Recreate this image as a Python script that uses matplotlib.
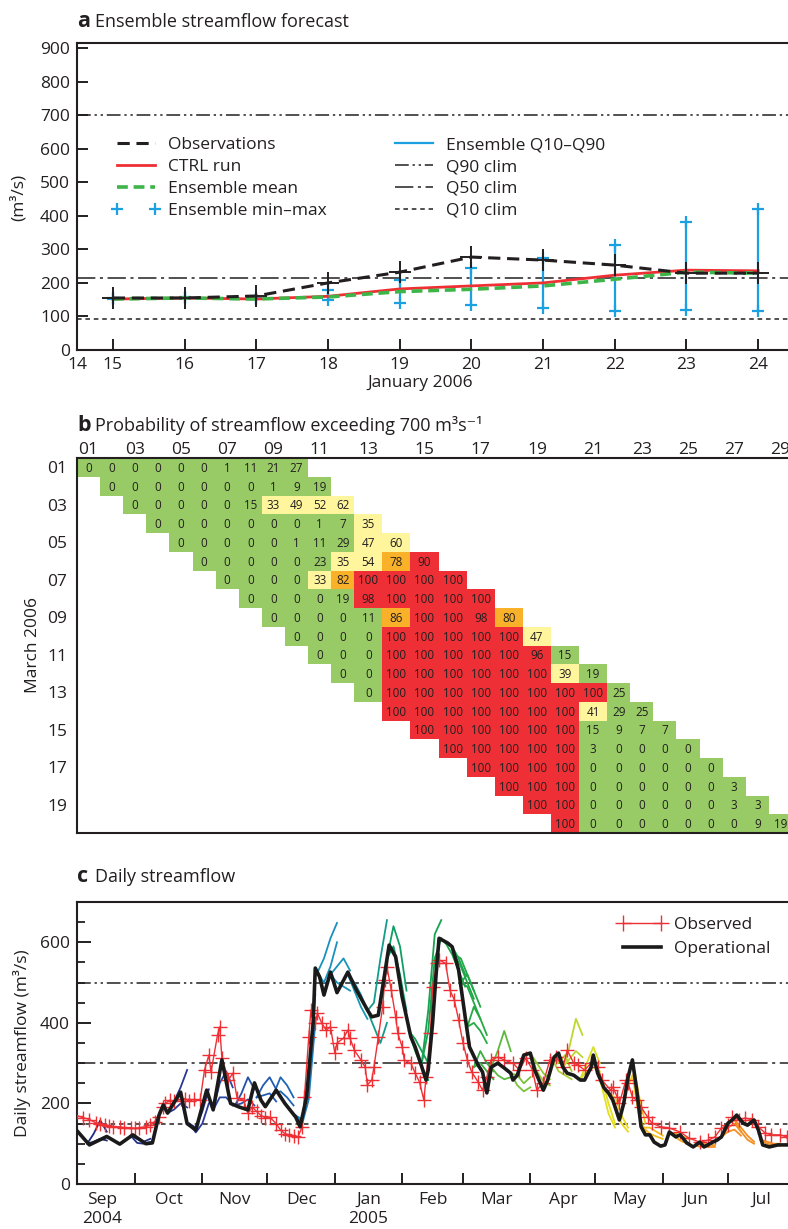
import numpy as np
import matplotlib
matplotlib.use('Agg')
import matplotlib.pyplot as plt
from matplotlib.lines import Line2D
from matplotlib.colors import ListedColormap, BoundaryNorm, LinearSegmentedColormap
import datetime as dt

plt.rcParams['font.family'] = ['Open Sans', 'DejaVu Sans']

# ---------------- Panel a data ----------------
a_days = [15, 16, 17, 18, 19, 20, 21, 22, 23, 24]
a_obs = [155, 155, 161, 200, 232, 277, 268, 253, 229, 229]
a_ctrl = [152, 155, 152, 160, 182, 191, 200, 223, 238, 236]
a_mean = [152, 155, 152, 158, 174, 181, 191, 211, 232, 229]
a_min = [152, 155, 152, 149, 141, 134, 125, 117, 119, 117]
a_max = [155, 157, 154, 179, 209, 244, 274, 313, 382, 419]
a_q10 = [152, 155, 152, 152, 146, 138, 130, 121, 121, 119]
a_q90 = [155, 157, 154, 175, 205, 240, 270, 310, 378, 416]
a_clim = {'Q90': 700, 'Q50': 215, 'Q10': 92}
a_xticklabels = ['14', '15', '16', '17', '18', '19', '20', '21', '22', '23', '24']

# ---------------- Panel b data ----------------
prob_rows = [
    [0, 0, 0, 0, 0, 0, 1, 11, 21, 27],
    [0, 0, 0, 0, 0, 0, 0, 1, 9, 19],
    [0, 0, 0, 0, 0, 15, 33, 49, 52, 62],
    [0, 0, 0, 0, 0, 0, 0, 1, 7, 35],
    [0, 0, 0, 0, 0, 1, 11, 29, 47, 60],
    [0, 0, 0, 0, 0, 23, 35, 54, 78, 90],
    [0, 0, 0, 0, 33, 82, 100, 100, 100, 100],
    [0, 0, 0, 0, 19, 98, 100, 100, 100, 100],
    [0, 0, 0, 0, 11, 86, 100, 100, 98, 80],
    [0, 0, 0, 0, 100, 100, 100, 100, 100, 47],
    [0, 0, 0, 100, 100, 100, 100, 100, 96, 15],
    [0, 0, 100, 100, 100, 100, 100, 100, 39, 19],
    [0, 100, 100, 100, 100, 100, 100, 100, 100, 25],
    [100, 100, 100, 100, 100, 100, 100, 41, 29, 25],
    [100, 100, 100, 100, 100, 100, 15, 9, 7, 7],
    [100, 100, 100, 100, 100, 3, 0, 0, 0, 0],
    [100, 100, 100, 100, 0, 0, 0, 0, 0, 0],
    [100, 100, 100, 0, 0, 0, 0, 0, 0, 3],
    [100, 100, 0, 0, 0, 0, 0, 0, 3, 3],
    [100, 0, 0, 0, 0, 0, 0, 0, 9, 19],
]
prob_bounds = [0, 30, 75, 90, 101]

# ---------------- Panel c data (days since 1 Sep 2004) ----------------
obs_days = [3, 6, 9, 12, 14, 16, 18, 20, 23, 25,
            28, 30, 32, 35, 37, 39, 41, 43, 44, 46,
            48, 51, 53, 55, 57, 60, 62, 64, 65, 68,
            69, 70, 73, 75, 77, 80, 82, 84, 86, 88,
            90, 92, 95, 97, 99, 101, 103, 105, 107, 108,
            110, 111, 113, 114, 116, 118, 120, 122, 123, 126,
            128, 129, 131, 134, 136, 137, 139, 140, 142, 144,
            145, 146, 148, 150, 151, 153, 154, 157, 159, 161,
            163, 164, 166, 167, 169, 170, 173, 175, 177, 179,
            181, 183, 185, 188, 190, 192, 194, 197, 200, 204,
            207, 210, 213, 215, 218, 221, 224, 227, 229, 232,
            234, 237, 240, 243, 245, 249, 250, 252, 253, 256,
            257, 259, 261, 263, 266, 268, 272, 276, 281, 285,
            290, 294, 297, 300, 303, 305, 308, 311, 314, 317,
            320, 323, 327, 330, 333]
obs_vals = [170, 165, 160, 152, 150, 146, 145, 142, 142, 140,
            140, 138, 140, 142, 146, 155, 166, 190, 200, 208,
            205, 210, 212, 205, 210, 208, 283, 320, 278, 370,
            390, 313, 258, 275, 213, 208, 176, 191, 180, 170,
            165, 166, 150, 134, 125, 122, 118, 117, 142, 216,
            365, 432, 399, 424, 399, 382, 390, 325, 350, 362,
            382, 362, 332, 308, 290, 246, 258, 290, 365, 439,
            506, 538, 481, 415, 374, 340, 308, 300, 275, 253,
            208, 265, 374, 489, 548, 556, 548, 481, 457, 407,
            350, 308, 278, 253, 233, 265, 308, 315, 308, 300,
            283, 313, 283, 233, 251, 308, 315, 290, 332, 300,
            295, 283, 300, 290, 258, 233, 241, 216, 200, 258,
            251, 216, 208, 191, 166, 151, 142, 139, 129, 114,
            104, 109, 117, 139, 146, 166, 159, 164, 159, 142,
            127, 122, 122, 117, 115]

op_days = [3, 9, 17, 23, 29, 35, 38, 41, 43, 45,
           51, 54, 58, 63, 66, 70, 74, 78, 82, 85,
           88, 90, 95, 99, 104, 106, 109, 112, 113, 115,
           117, 120, 123, 128, 132, 137, 139, 142, 145, 147,
           150, 153, 157, 159, 161, 164, 165, 167, 169, 170,
           174, 176, 179, 182, 184, 188, 190, 192, 194, 197,
           200, 203, 204, 206, 209, 212, 214, 218, 220, 223,
           225, 227, 229, 232, 235, 237, 240, 241, 243, 246,
           248, 250, 253, 255, 257, 259, 261, 263, 265, 267,
           269, 272, 274, 276, 279, 281, 284, 287, 290, 292,
           296, 298, 300, 303, 305, 307, 310, 312, 315, 317,
           319, 322, 326, 329, 333]
op_vals = [134, 97, 118, 99, 122, 100, 102, 170, 196, 176,
           228, 150, 134, 233, 184, 308, 200, 191, 184, 251,
           208, 192, 233, 200, 166, 142, 216, 399, 536, 514,
           469, 526, 475, 526, 481, 432, 415, 419, 523, 593,
           564, 464, 365, 340, 308, 258, 283, 399, 548, 610,
           598, 589, 531, 415, 340, 295, 278, 226, 290, 300,
           288, 275, 258, 270, 320, 325, 283, 233, 258, 315,
           325, 290, 275, 270, 258, 258, 290, 320, 275, 238,
           226, 208, 159, 200, 265, 308, 233, 142, 122, 122,
           104, 94, 97, 129, 117, 122, 102, 92, 104, 92,
           104, 109, 117, 151, 159, 171, 151, 146, 159, 134,
           97, 92, 97, 97, 97]

# ensemble forecasts: issue day, and upper / lower members at lead days
fc_lead = [0, 3, 6, 9]
fc_issue = [8, 28, 45, 55, 66, 76, 86, 94, 104, 114, 120, 128,
            137, 146, 156, 162, 173, 177, 180, 183, 186, 194, 203, 212,
            222, 227, 235, 242, 248, 256, 264, 276, 288, 300, 306, 318]
fc_upper = [[100, 125, 158, 130], [120, 112, 105, 112], [176, 205, 240, 283],
            [150, 140, 180, 235], [184, 250, 280, 240], [195, 225, 265, 235],
            [215, 245, 265, 235], [225, 265, 245, 215], [170, 160, 260, 470],
            [525, 560, 610, 648], [520, 540, 560, 530], [520, 500, 470, 430],
            [430, 450, 560, 655], [560, 640, 590, 480], [380, 360, 330, 300],
            [300, 430, 620, 655], [598, 590, 560, 520], [570, 560, 520, 480],
            [500, 520, 480, 440], [390, 440, 410, 370], [290, 330, 300, 280],
            [290, 330, 380, 330], [275, 270, 250, 265], [325, 300, 275, 260],
            [310, 300, 320, 280], [290, 340, 410, 370], [260, 300, 340, 300],
            [300, 260, 200, 150], [226, 215, 170, 140], [230, 310, 220, 150],
            [140, 140, 130, 120], [129, 125, 118, 112], [95, 100, 98, 96],
            [117, 140, 150, 130], [160, 140, 120, 105], [110, 105, 100, 100]]
fc_lower = [[100, 105, 112, 108], [120, 102, 100, 104], [176, 185, 200, 190],
            [150, 128, 150, 200], [184, 215, 215, 195], [195, 200, 210, 195],
            [215, 220, 225, 205], [225, 230, 215, 195], [170, 150, 210, 400],
            [525, 500, 540, 600], [520, 500, 490, 480], [520, 480, 440, 410],
            [430, 390, 350, 400], [560, 590, 520, 430], [380, 330, 290, 258],
            [300, 380, 560, 610], [598, 570, 530, 490], [570, 540, 500, 460],
            [500, 490, 450, 410], [390, 400, 380, 350], [290, 300, 280, 260],
            [290, 270, 260, 265], [275, 245, 230, 240], [325, 280, 255, 245],
            [310, 280, 270, 260], [290, 310, 330, 315], [260, 280, 290, 280],
            [300, 240, 175, 140], [226, 190, 150, 130], [230, 270, 170, 130],
            [140, 125, 118, 112], [129, 115, 105, 100], [95, 92, 92, 92],
            [117, 130, 135, 120], [160, 130, 110, 100], [110, 100, 96, 95]]
c_clim = {'Q90': 500, 'Q50': 300, 'Q10': 150}
c_months = ['Sep\n2004', 'Oct', 'Nov', 'Dec', 'Jan\n2005', 'Feb', 'Mar',
            'Apr', 'May', 'Jun', 'Jul']

# ---------------- styling ----------------
INK = '#231f20'
RED = '#ee3035'
GREEN = '#3db549'
BLUE = '#1ba1e2'
W, H = 788, 1229
FS = 12.5


def axrect(l, t, r, b):
    return [l / W, 1 - b / H, (r - l) / W, (b - t) / H]


def title(x, y, letter, text):
    fig.text(x / W, 1 - y / H, letter, fontsize=15.5, fontweight='bold',
             color=INK, va='baseline', ha='left')
    fig.text((x + 18) / W, 1 - y / H, text, fontsize=13, color=INK,
             va='baseline', ha='left')


def style_axis(ax):
    for s in ax.spines.values():
        s.set_linewidth(1.5)
        s.set_color(INK)
    ax.spines['right'].set_visible(False)


Q90_DASH = (9, 2.5, 1.5, 2.5, 1.5, 2.5)
Q50_DASH = (12, 3, 2, 3)
Q10_DASH = (3, 2.5)

fig = plt.figure(figsize=(W / 100, H / 100), dpi=100)

# ================= Panel a =================
axa = fig.add_axes(axrect(77, 43, 794, 350))
style_axis(axa)
axa.axhline(a_clim['Q90'], color=INK, lw=1.1, dashes=Q90_DASH)
axa.axhline(a_clim['Q50'], color=INK, lw=1.1, dashes=Q50_DASH)
axa.axhline(a_clim['Q10'], color=INK, lw=1.1, dashes=Q10_DASH)
axa.vlines(a_days, a_q10, a_q90, color=BLUE, lw=1.6, zorder=3)
axa.plot(a_days, a_min, ls='none', marker='+', ms=9, mew=1.6, color=BLUE, zorder=3)
axa.plot(a_days, a_max, ls='none', marker='+', ms=9, mew=1.6, color=BLUE, zorder=3)
axa.plot(a_days, a_ctrl, color=RED, lw=2, zorder=4)
axa.plot(a_days, a_mean, color=GREEN, lw=2.6, dashes=(3, 1.6), zorder=5)
axa.plot(a_days, a_obs, color=INK, lw=2.2, dashes=(4, 2.2), marker='+', ms=16,
         mew=1.4, zorder=6)
axa.set_xlim(14.5, 24.5)
axa.set_ylim(0, 915)
axa.set_xticks([14.5] + a_days)
axa.set_xticklabels(a_xticklabels)
axa.set_yticks(np.arange(0, 901, 100))
axa.tick_params(direction='in', length=8, width=1.4, labelsize=FS, colors=INK,
                pad=5, top=False, right=False)
fig.text(18 / W, 1 - 197 / H, '(m³/s)', rotation=90, ha='center', va='center',
         fontsize=FS, color=INK)
fig.text(420 / W, 1 - 383 / H, 'January 2006', ha='center', va='center',
         fontsize=FS, color=INK)
h = [Line2D([], [], color=INK, lw=2.2, dashes=(4, 2.2)),
     Line2D([], [], color=RED, lw=2),
     Line2D([], [], color=GREEN, lw=2.6, dashes=(3, 1.6)),
     Line2D([], [], color=BLUE, ls='none', marker='+', ms=9, mew=1.6),
     Line2D([], [], color=BLUE, lw=1.6),
     Line2D([], [], color=INK, lw=1.1, dashes=Q90_DASH),
     Line2D([], [], color=INK, lw=1.1, dashes=Q50_DASH),
     Line2D([], [], color=INK, lw=1.1, dashes=Q10_DASH)]
labs = ['Observations', 'CTRL run', 'Ensemble mean', 'Ensemble min–max',
        'Ensemble Q10–Q90', 'Q90 clim', 'Q50 clim', 'Q10 clim']
axa.legend(h, labs, ncol=2, numpoints=2, frameon=False, fontsize=FS,
           loc='upper left', bbox_to_anchor=((112 - 77) / 717, (350 - 137) / 307),
           borderpad=0, borderaxespad=0, handlelength=2.8, handletextpad=0.45,
           columnspacing=3.6, labelspacing=0.33, labelcolor=INK)
title(77, 27, 'a', 'Ensemble streamflow forecast')

# ================= Panel b =================
axb = fig.add_axes(axrect(77, 458, 792, 833))
style_axis(axb)
n_rows = len(prob_rows)
n_cols = n_rows + len(prob_rows[0]) - 1
M = np.full((n_rows, n_cols), np.nan)
for i, row in enumerate(prob_rows):
    M[i, i:i + len(row)] = row
wide = np.nan_to_num(M, nan=0).max(axis=0) >= 100
widths = np.where(wide, 1.216, 1.0)
xe = np.concatenate([[0], np.cumsum(widths)])
ye = np.arange(n_rows + 1)
cmap_b = ListedColormap(['#98cb65', '#fff59c', '#f9b12a', '#ee3036'])
norm_b = BoundaryNorm(prob_bounds, 4)
axb.pcolormesh(xe, ye, np.ma.masked_invalid(M), cmap=cmap_b, norm=norm_b)
xc = (xe[:-1] + xe[1:]) / 2
for i in range(n_rows):
    for j in range(n_cols):
        if not np.isnan(M[i, j]):
            axb.text(xc[j], i + 0.55, '%d' % M[i, j], ha='center', va='center',
                     fontsize=8.4, color=INK)
axb.set_xlim(0, xe[-1])
axb.set_ylim(n_rows, 0)
axb.xaxis.tick_top()
axb.set_xticks(xc[::2])
axb.set_xticklabels(['%02d' % (j + 1) for j in range(0, n_cols, 2)])
axb.set_yticks(np.arange(0, n_rows, 2) + 0.5)
axb.set_yticklabels(['%02d' % (i + 1) for i in range(0, n_rows, 2)])
axb.tick_params(axis='y', length=0, labelsize=FS, colors=INK, pad=7)
axb.tick_params(axis='x', length=0, labelsize=FS, colors=INK, pad=0)
fig.text(33 / W, 1 - 645 / H, 'March 2006', rotation=90, ha='center', va='center',
         fontsize=FS, color=INK)
title(77, 431, 'b', 'Probability of streamflow exceeding 700 m³s⁻¹')

# ================= Panel c =================
axc = fig.add_axes(axrect(77, 902, 794, 1184))
style_axis(axc)
base = dt.date(2004, 9, 1)
cmap_c = LinearSegmentedColormap.from_list('fc', [
    (0.00, '#1d2a7a'), (0.18, '#2a3d9e'), (0.28, '#1e63b5'), (0.34, '#1a8fc2'),
    (0.39, '#1797b0'), (0.45, '#0ea05a'), (0.55, '#22a845'), (0.60, '#6fbe3c'),
    (0.67, '#a6cf38'), (0.72, '#dde31f'), (0.77, '#f3d21a'), (0.81, '#f5b51e'),
    (0.88, '#f39223'), (1.00, '#ef8a27')])
for d0, up, lo in zip(fc_issue, fc_upper, fc_lower):
    col = cmap_c(d0 / 330)
    xd = [d0 + l for l in fc_lead]
    axc.plot(xd, up, color=col, lw=1.3, zorder=2)
    axc.plot(xd, lo, color=col, lw=1.3, zorder=2)
axc.axhline(c_clim['Q90'], color=INK, lw=1.1, dashes=Q90_DASH, zorder=1)
axc.axhline(c_clim['Q50'], color=INK, lw=1.1, dashes=Q50_DASH, zorder=1)
axc.axhline(c_clim['Q10'], color=INK, lw=1.1, dashes=Q10_DASH, zorder=1)
axc.plot(obs_days, obs_vals, color=RED, lw=1.0, marker='+', ms=10, mew=1.0, zorder=3)
axc.plot(op_days, op_vals, color='#1a1a1a', lw=2.6, zorder=4)
axc.set_ylim(0, 700)
axc.set_xlim(3.3, 333.4)
month_starts = [(dt.date(2004 + (8 + k) // 12, (8 + k) % 12 + 1, 1) - base).days
                for k in range(12)]
axc.set_xticks(month_starts[1:11])
axc.set_xticklabels([])
mids = [(month_starts[k] + month_starts[k + 1]) / 2 for k in range(11)]
axc.set_xticks(mids, minor=True)
axc.set_xticklabels(c_months, minor=True)
axc.set_yticks([0, 200, 400, 600])
axc.set_yticks(np.arange(0, 701, 50), minor=True)
axc.tick_params(which='major', direction='in', length=10, width=1.4,
                labelsize=FS, colors=INK, pad=5, top=False, right=False)
axc.tick_params(which='minor', direction='in', length=6, width=1.3,
                labelsize=FS, colors=INK, pad=5, top=False, right=False)
axc.tick_params(axis='x', which='minor', length=0, pad=6)
axc.tick_params(axis='x', which='major', length=8)
fig.text(22 / W, 1 - 1043 / H, 'Daily streamflow (m³/s)', rotation=90,
         ha='center', va='center', fontsize=FS, color=INK)
hc = [Line2D([], [], color=RED, lw=1.0, marker='+', ms=12, mew=1.0),
      Line2D([], [], color='#1a1a1a', lw=2.6)]
axc.legend(hc, ['Observed', 'Operational'], numpoints=2, frameon=False,
           fontsize=FS, loc='upper left',
           bbox_to_anchor=((618 - 77) / 717, (1184 - 917) / 282),
           borderpad=0, borderaxespad=0, handlelength=2.8, handletextpad=0.45,
           labelspacing=0.42, labelcolor=INK)
title(77, 882, 'c', 'Daily streamflow')

fig.savefig('out.png', dpi=100)
